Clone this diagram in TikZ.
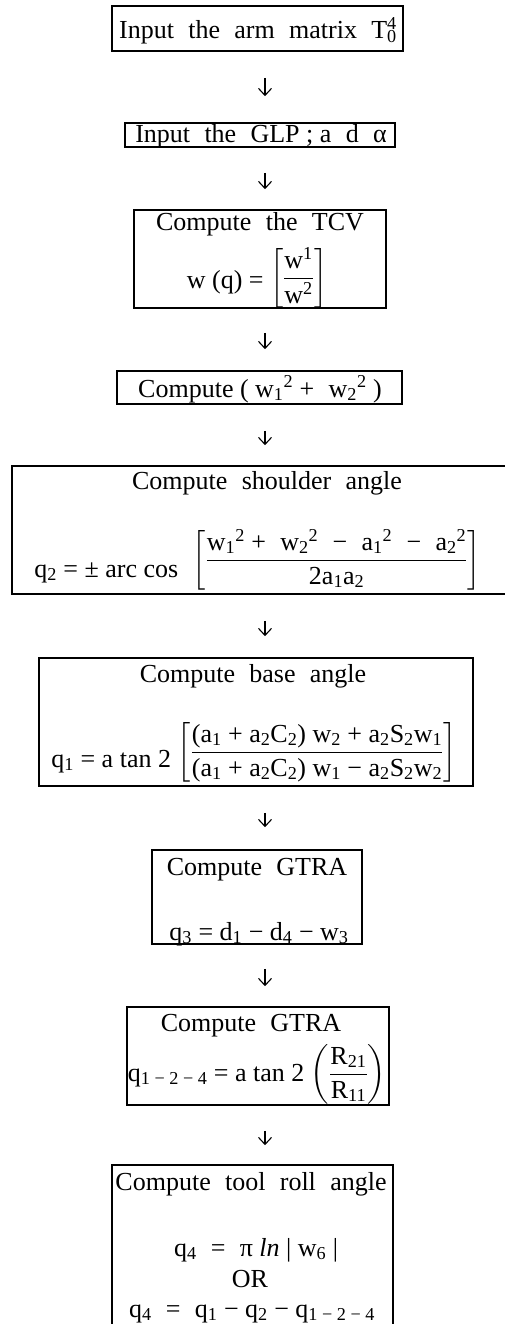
\documentclass[tikz,border=0pt]{standalone}
\usepackage{amsmath}
\usepackage{fontspec}
\setmainfont{Liberation Serif}
\usetikzlibrary{arrows.meta}
\newcommand\dsp{\hspace{0.55em}}
\newcommand\sbb[1]{\textsubscript{#1}}
\newcommand\spp[1]{\textsuperscript{#1}}
\delimiterfactor=820
\delimitershortfall=8pt
\begin{document}
\begin{tikzpicture}[x=1pt,y=-1pt,font=\fontsize{26}{30}\selectfont,
  box/.style={draw, line width=1.6pt, inner sep=0pt},
  txt/.style={inner sep=0pt, anchor=base},
  arr/.style={line width=1.1pt, -{Straight Barb[length=7pt,width=13pt]}}]
\useasboundingbox (0,0) rectangle (505,1324);
\coordinate (ax) at (265,0);
% boxes
\node[box, minimum width=291pt, minimum height=45pt] (b1) at (257.5,28.5) {};
\node[box, minimum width=270pt, minimum height=24pt] (b2) at (260,135) {};
\node[box, minimum width=252pt, minimum height=98pt] (b3) at (260,259) {};
\node[box, minimum width=285pt, minimum height=33pt] (b4) at (259.5,387.5) {};
\node[box, minimum width=510pt, minimum height=128pt] (b5) at (267,530) {};
\node[box, minimum width=434pt, minimum height=128pt] (b6) at (256,722) {};
\node[box, minimum width=210pt, minimum height=94pt] (b7) at (257,897) {};
\node[box, minimum width=262pt, minimum height=98pt] (b8) at (258,1056) {};
\node[box, minimum width=281pt, minimum height=180pt] (b9) at (252.5,1255) {};
% texts
\node[txt] (t1) at (258,39) {Input\dsp the\dsp arm\dsp matrix\dsp T\rlap{\spp{4}}\sbb{0}};
\node[txt] (t2) at (261,143) {Input\dsp the\dsp GLP ; a\dsp d\dsp α};
\node[txt] (t3a) at (260,231) {Compute\dsp the\dsp TCV};
\node[txt] (t3b) at (257,288) {w (q) = \raisebox{3pt}{$\left[\dfrac{\mbox{w\spp{1}}}{\mbox{w\spp{2}}}\right]$}};
\node[txt] (t4) at (260,397) {Compute ( w\sbb{1}\spp{2} +\dsp w\sbb{2}\spp{2} )};
\node[txt] (t5a) at (267,489) {Compute\dsp shoulder\dsp angle};
\node[txt] (t5b) at (257.5,577) {q\sbb{2} =~± arc cos\dsp\raisebox{10pt}{$\left[\dfrac{\mbox{w\sbb{1}\spp{2} +\dsp w\sbb{2}\spp{2}\dsp−\dsp a\sbb{1}\spp{2}\dsp−\dsp a\sbb{2}\spp{2}}}{\mbox{2a\sbb{1}a\sbb{2}}}\right]$}};
\node[txt] (t6a) at (253,682) {Compute\dsp base\dsp angle};
\node[txt] (t6b) at (254,767) {q\sbb{1} = a tan 2 \raisebox{8pt}{$\left[\dfrac{\mbox{(a\sbb{1} + a\sbb{2}C\sbb{2}) w\sbb{2} + a\sbb{2}S\sbb{2}w\sbb{1}}}{\mbox{(a\sbb{1} + a\sbb{2}C\sbb{2}) w\sbb{1} − a\sbb{2}S\sbb{2}w\sbb{2}}}\right]$}};
\node[txt] (t7a) at (257,875) {Compute\dsp GTRA};
\node[txt] (t7b) at (259,940) {q\sbb{3} = d\sbb{1} − d\sbb{4} − w\sbb{3}};
\node[txt] (t8a) at (251,1031) {Compute\dsp GTRA};
\node[txt] (t8b) at (257,1081) {q\sbb{1 − 2 − 4} = a tan 2 $\left(\dfrac{\mbox{R\sbb{21}}}{\mbox{R\sbb{11}}}\right)$};
\node[txt] (t9a) at (251,1190) {Compute\dsp tool\dsp roll\dsp angle};
\node[txt] (t9b) at (256,1256) {q\sbb{4}\dsp=\dsp π \textit{ln} | w\sbb{6} |};
\node[txt] (t9c) at (250,1287) {OR};
\node[txt] (t9d) at (252,1317) {q\sbb{4}\dsp=\dsp q\sbb{1} − q\sbb{2} − q\sbb{1 − 2 − 4}};
% connectors
\draw[arr, shorten <=26pt, shorten >=26pt] (b1.south -| ax) -- (b2.north -| ax);
\draw[arr, shorten <=25pt, shorten >=20pt] (b2.south -| ax) -- (b3.north -| ax);
\draw[arr, shorten <=24pt, shorten >=21pt] (b3.south -| ax) -- (b4.north -| ax);
\draw[arr, shorten <=26pt, shorten >=20pt] (b4.south -| ax) -- (b5.north -| ax);
\draw[arr, shorten <=26pt, shorten >=21pt] (b5.south -| ax) -- (b6.north -| ax);
\draw[arr, shorten <=26pt, shorten >=22pt] (b6.south -| ax) -- (b7.north -| ax);
\draw[arr, shorten <=24pt, shorten >=20pt] (b7.south -| ax) -- (b8.north -| ax);
\draw[arr, shorten <=25pt, shorten >=19pt] (b8.south -| ax) -- (b9.north -| ax);
\end{tikzpicture}
\end{document}
